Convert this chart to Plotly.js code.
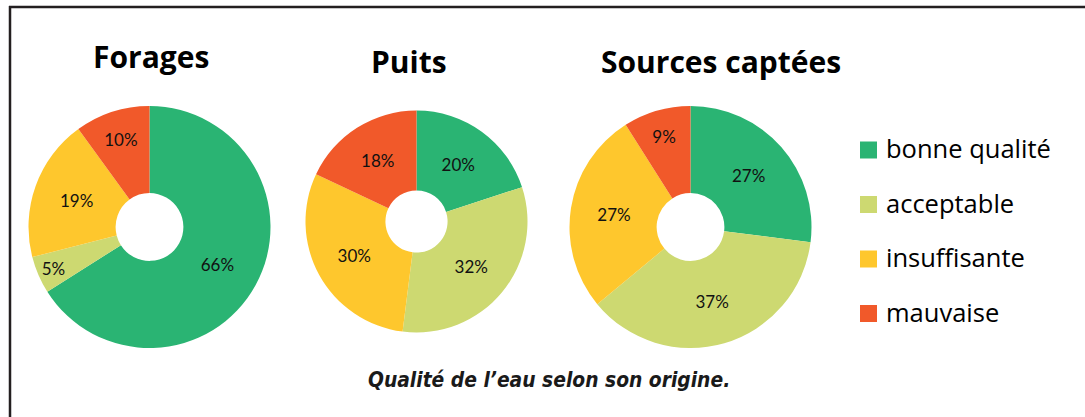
<!DOCTYPE html>
<html>
<head>
<meta charset="utf-8">
<script src="https://cdn.plot.ly/plotly-3.0.1.min.js"></script>
<style>
html,body{margin:0;padding:0;background:#fff;}
#chart{width:1085px;height:417px;}
</style>
</head>
<body>
<div id="chart"></div>
<script>
// ---- data ----
const categories = ["bonne qualité", "acceptable", "insuffisante", "mauvaise"];
const colors = ["#2AB473", "#CDD971", "#FEC72D", "#F1592A"];
const origins = ["Forages", "Puits", "Sources captées"];
const foragesValues = [66, 5, 19, 10];
const puitsValues = [20, 32, 30, 18];
const sourcesValues = [27, 37, 27, 9];
const caption = "Qualité de l’eau selon son origine.";

// ---- layout helpers (pixel -> paper) ----
const W = 1085, H = 417;
const px = x => x / W;
const py = y => 1 - y / H;

function dom(cx, cy, r) {
  return { x: [px(cx - r), px(cx + r)], y: [py(cy + r), py(cy - r)] };
}

const pieGeom = [
  { cx: 149.5, cy: 227, r: 121, tx: 151, ty: 56 },
  { cx: 416.5, cy: 221.5, r: 111, tx: 409, ty: 62 },
  { cx: 690.5, cy: 227, r: 121, tx: 721, ty: 62 }
];
const seriesValues = [foragesValues, puitsValues, sourcesValues];

const labelFont = { family: "Lato, 'Open Sans', sans-serif", size: 17, color: "#111" };

const traces = seriesValues.map((vals, i) => ({
  type: "pie",
  name: origins[i],
  labels: categories,
  values: vals,
  hole: 0.28,
  sort: false,
  direction: "clockwise",
  rotation: 0,
  marker: { colors: colors, line: { width: 0 } },
  texttemplate: "%{value}%",
  textposition: "inside",
  insidetextorientation: "horizontal",
  textfont: labelFont,
  insidetextfont: labelFont,
  hoverinfo: "label+percent",
  showlegend: false,
  domain: dom(pieGeom[i].cx, pieGeom[i].cy, pieGeom[i].r)
}));

const annotations = [];
const shapes = [];

// pie titles
origins.forEach((t, i) => {
  annotations.push({
    text: "<b>" + t + "</b>",
    xref: "paper", yref: "paper",
    x: px(pieGeom[i].tx), y: py(pieGeom[i].ty),
    xanchor: "center", yanchor: "middle",
    showarrow: false,
    font: { family: "'Open Sans', Lato, sans-serif", size: 30, color: "#000" }
  });
});

// legend (built from categories / colors)
const legX = 860, legY0 = 150, legStep = 54.5, sq = 17;
categories.forEach((c, i) => {
  const cy = legY0 + i * legStep;
  shapes.push({
    type: "rect", xref: "paper", yref: "paper",
    x0: px(legX), x1: px(legX + sq),
    y0: py(cy + sq / 2), y1: py(cy - sq / 2),
    fillcolor: colors[i], line: { width: 0 }
  });
  annotations.push({
    text: c,
    xref: "paper", yref: "paper",
    x: px(legX + 24), y: py(cy - 2),
    xanchor: "left", yanchor: "middle",
    showarrow: false,
    font: { family: "'Open Sans', Lato, sans-serif", size: 25.5, color: "#000" }
  });
});

// caption
annotations.push({
  text: "<b><i>" + caption + "</i></b>",
  xref: "paper", yref: "paper",
  x: px(549), y: py(380),
  xanchor: "center", yanchor: "middle",
  showarrow: false,
  font: { family: "'DejaVu Sans Condensed', 'DejaVu Sans', sans-serif", size: 20.8, color: "#1a1a1a" }
});

// frame lines (top and left)
shapes.push({ type: "line", xref: "paper", yref: "paper",
  x0: px(9), x1: 1, y0: py(7), y1: py(7), line: { color: "#231F20", width: 2.5 } });
shapes.push({ type: "line", xref: "paper", yref: "paper",
  x0: px(10), x1: px(10), y0: py(6), y1: 0, line: { color: "#231F20", width: 2.5 } });

const layout = {
  width: W, height: H,
  margin: { l: 0, r: 0, t: 0, b: 0 },
  paper_bgcolor: "#fff",
  plot_bgcolor: "#fff",
  showlegend: false,
  annotations: annotations,
  shapes: shapes
};

Plotly.newPlot("chart", traces, layout, { displayModeBar: false, staticPlot: true });
</script>
</body>
</html>
